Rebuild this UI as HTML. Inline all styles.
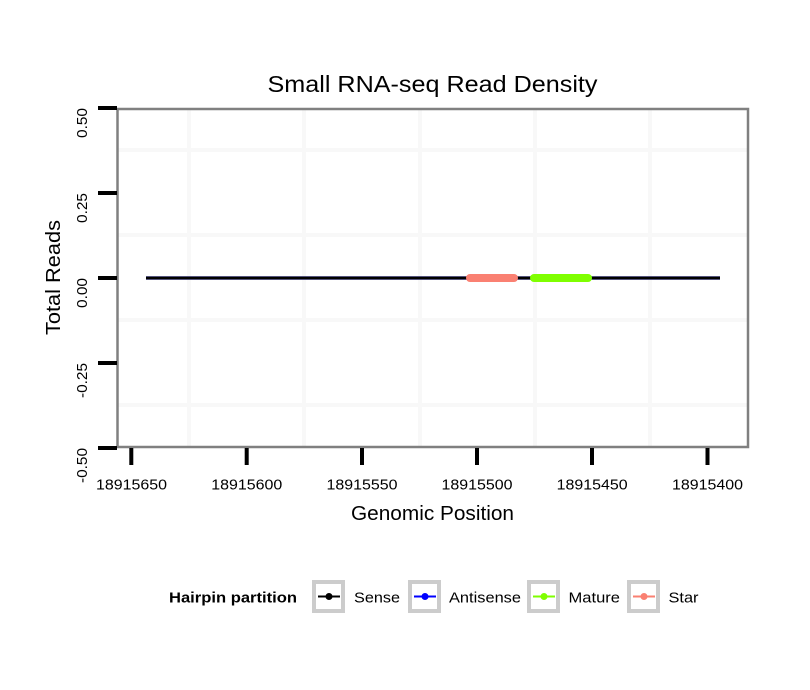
<!DOCTYPE html>
<html>
<head>
<meta charset="utf-8">
<style>
html,body{margin:0;padding:0;background:#fff;}
svg{display:block;}
text{font-family:"Liberation Sans",Arial,sans-serif;fill:#000;}
</style>
</head>
<body>
<svg width="810" height="690" viewBox="0 0 810 690" xmlns="http://www.w3.org/2000/svg">
  <rect x="0" y="0" width="810" height="690" fill="#ffffff"/>

  <!-- Title -->
  <text x="432.5" y="92" font-size="23" text-anchor="middle" textLength="330" lengthAdjust="spacingAndGlyphs">Small RNA-seq Read Density</text>

  <!-- grid (minor) -->
  <g stroke="#f8f8f8" stroke-width="4">
    <line x1="118" y1="150" x2="748" y2="150"/>
    <line x1="118" y1="235" x2="748" y2="235"/>
    <line x1="118" y1="320" x2="748" y2="320"/>
    <line x1="118" y1="405" x2="748" y2="405"/>
    <line x1="189" y1="109" x2="189" y2="447"/>
    <line x1="304" y1="109" x2="304" y2="447"/>
    <line x1="420" y1="109" x2="420" y2="447"/>
    <line x1="535" y1="109" x2="535" y2="447"/>
    <line x1="650" y1="109" x2="650" y2="447"/>
  </g>

  <!-- data -->
  <line x1="146" y1="278" x2="720" y2="278" stroke="#2a2a7a" stroke-width="3.6"/>
  <line x1="146" y1="278" x2="720" y2="278" stroke="#000" stroke-width="2.4"/>
  <line x1="470" y1="278" x2="514" y2="278" stroke="#FA8072" stroke-width="8" stroke-linecap="round"/>
  <line x1="534" y1="278" x2="588" y2="278" stroke="#7FFF00" stroke-width="8" stroke-linecap="round"/>

  <!-- panel border -->
  <rect x="117.5" y="109" width="630.5" height="338" fill="none" stroke="#808080" stroke-width="2.5"/>

  <!-- y ticks -->
  <g stroke="#000" stroke-width="4">
    <line x1="98" y1="108" x2="117" y2="108"/>
    <line x1="98" y1="193" x2="117" y2="193"/>
    <line x1="98" y1="278" x2="117" y2="278"/>
    <line x1="98" y1="363" x2="117" y2="363"/>
    <line x1="98" y1="448" x2="117" y2="448"/>
  </g>
  <!-- y tick labels -->
  <g font-size="14.5">
    <text transform="translate(87,108) rotate(-90)" text-anchor="end" textLength="30" lengthAdjust="spacingAndGlyphs">0.50</text>
    <text transform="translate(87,193) rotate(-90)" text-anchor="end" textLength="30" lengthAdjust="spacingAndGlyphs">0.25</text>
    <text transform="translate(87,278) rotate(-90)" text-anchor="end" textLength="30" lengthAdjust="spacingAndGlyphs">0.00</text>
    <text transform="translate(87,363) rotate(-90)" text-anchor="end" textLength="35" lengthAdjust="spacingAndGlyphs">-0.25</text>
    <text transform="translate(87,448) rotate(-90)" text-anchor="end" textLength="35" lengthAdjust="spacingAndGlyphs">-0.50</text>
  </g>

  <!-- x ticks -->
  <g stroke="#000" stroke-width="4">
    <line x1="131.3" y1="448" x2="131.3" y2="465"/>
    <line x1="246.7" y1="448" x2="246.7" y2="465"/>
    <line x1="362" y1="448" x2="362" y2="465"/>
    <line x1="477" y1="448" x2="477" y2="465"/>
    <line x1="592" y1="448" x2="592" y2="465"/>
    <line x1="707.5" y1="448" x2="707.5" y2="465"/>
  </g>
  <g font-size="14.5" text-anchor="middle">
    <text x="131.5" y="489.5" textLength="71" lengthAdjust="spacingAndGlyphs">18915650</text>
    <text x="246.8" y="489.5" textLength="71" lengthAdjust="spacingAndGlyphs">18915600</text>
    <text x="362" y="489.5" textLength="71" lengthAdjust="spacingAndGlyphs">18915550</text>
    <text x="477" y="489.5" textLength="71" lengthAdjust="spacingAndGlyphs">18915500</text>
    <text x="592.2" y="489.5" textLength="71" lengthAdjust="spacingAndGlyphs">18915450</text>
    <text x="707.5" y="489.5" textLength="71" lengthAdjust="spacingAndGlyphs">18915400</text>
  </g>

  <!-- axis titles -->
  <text x="432.5" y="520" font-size="20" text-anchor="middle" textLength="163" lengthAdjust="spacingAndGlyphs">Genomic Position</text>
  <text transform="translate(60,277.5) rotate(-90)" font-size="20" text-anchor="middle" textLength="115" lengthAdjust="spacingAndGlyphs">Total Reads</text>

  <!-- legend -->
  <text x="169" y="602.5" font-size="15" font-weight="bold" textLength="128" lengthAdjust="spacingAndGlyphs">Hairpin partition</text>

  <g fill="none" stroke="#cccccc" stroke-width="4">
    <rect x="314" y="582" width="29" height="29"/>
    <rect x="410" y="582" width="29" height="29"/>
    <rect x="529" y="582" width="29" height="29"/>
    <rect x="629" y="582" width="29" height="29"/>
  </g>
  <g stroke-width="2">
    <line x1="318" y1="596.5" x2="340" y2="596.5" stroke="#000"/>
    <line x1="414" y1="596.5" x2="436" y2="596.5" stroke="#0000FF"/>
    <line x1="533" y1="596.5" x2="555" y2="596.5" stroke="#7FFF00"/>
    <line x1="633" y1="596.5" x2="655" y2="596.5" stroke="#FA8072"/>
  </g>
  <circle cx="329" cy="596.5" r="3.5" fill="#000"/>
  <circle cx="425" cy="596.5" r="3.5" fill="#0000FF"/>
  <circle cx="544" cy="596.5" r="3.5" fill="#7FFF00"/>
  <circle cx="644" cy="596.5" r="3.5" fill="#FA8072"/>

  <g font-size="15">
    <text x="354" y="602.5" textLength="46" lengthAdjust="spacingAndGlyphs">Sense</text>
    <text x="449" y="602.5" textLength="72" lengthAdjust="spacingAndGlyphs">Antisense</text>
    <text x="568.5" y="602.5" textLength="51.5" lengthAdjust="spacingAndGlyphs">Mature</text>
    <text x="668.5" y="602.5" textLength="30" lengthAdjust="spacingAndGlyphs">Star</text>
  </g>
</svg>
</body>
</html>
